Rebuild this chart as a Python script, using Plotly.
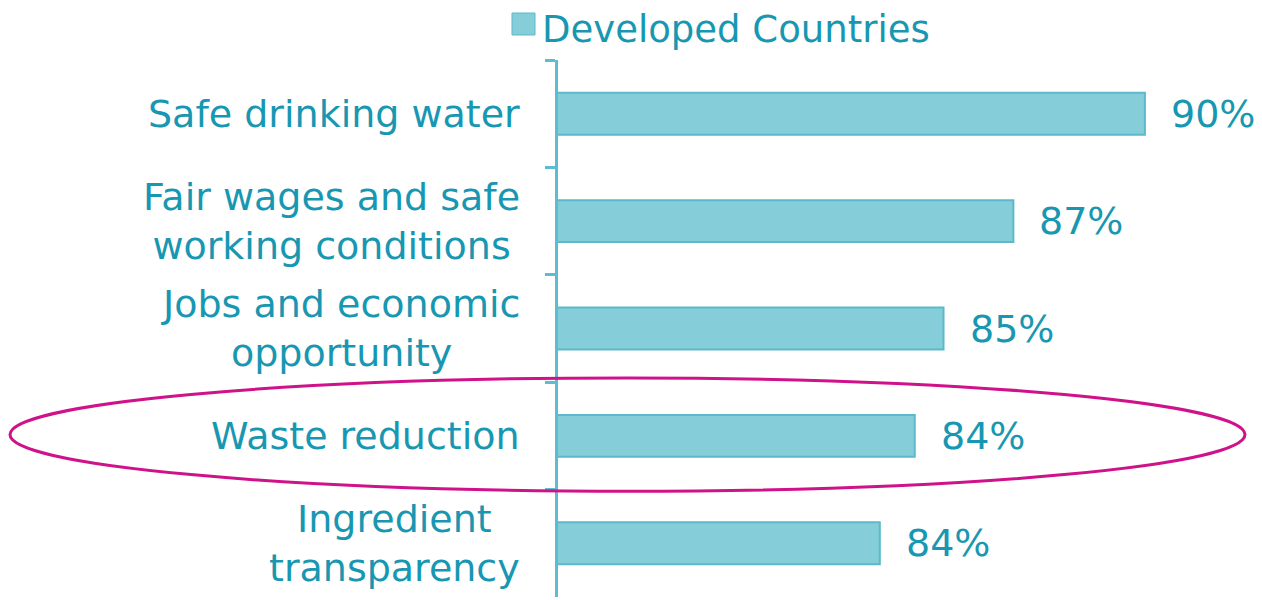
import plotly.graph_objects as go

# ---- data ----
categories = [
    "Safe drinking water",
    "Fair wages and safe<br>working conditions",
    "Jobs and economic<br>opportunity",
    "Waste reduction",
    "Ingredient<br>transparency",
]
values = [90.0, 86.8, 85.1, 84.4, 83.55]
series_name = "Developed Countries"
highlight = "Waste reduction"

# ---- style ----
TEXT = "#1797b1"
BAR = "#85cdd9"
BAR_EDGE = "#5cb9cc"
AXIS = "#5dbdd0"
RING = "#cf1289"
FONT = "DejaVu Sans"
FS = 38

PAD = 8  # default page body margin
W, H = 1262, 600
ML, MR, MT, MB = 550, 0, 52, 11
PW, PH = W - ML - MR, H - MT - MB
x0 = 75.72
x1 = x0 + PW / 41.1


def px_x(p):
    return (p - PAD - ML) / PW


def px_y(p):
    return (H - MB - (p - PAD)) / PH


fig = go.Figure()
fig.add_trace(go.Bar(
    y=categories, x=values, orientation="h", name=series_name,
    marker=dict(color=BAR, line=dict(color=BAR_EDGE, width=2)),
    width=0.39, showlegend=False, hoverinfo="x+y",
))

annotations = []
for c, v in zip(categories, values):
    annotations.append(dict(
        x=v, y=c, xref="x", yref="y", text=f"{int(v + 0.5)}%",
        xanchor="left", yanchor="middle", xshift=24, showarrow=False,
        font=dict(family=FONT, size=FS, color=TEXT),
    ))
    annotations.append(dict(
        x=0, y=c, xref="paper", yref="y", text=c,
        xanchor="right", yanchor="middle", xshift=-36, showarrow=False,
        align="center", font=dict(family=FONT, size=FS, color=TEXT),
    ))

# legend (manual, to match the large swatch)
annotations.append(dict(
    x=px_x(541), y=px_y(30), xref="paper", yref="paper", text=series_name,
    xanchor="left", yanchor="middle", showarrow=False, borderpad=0,
    font=dict(family=FONT, size=37, color=TEXT),
))

hi = categories.index(highlight)
shapes = [
    dict(type="rect", xref="paper", yref="paper",
         x0=px_x(512), x1=px_x(535), y0=px_y(35), y1=px_y(13),
         fillcolor=BAR, line=dict(color=BAR_EDGE, width=1)),
    dict(type="circle", xref="paper", yref="y", layer="above",
         x0=px_x(10), x1=px_x(1245), y0=hi - 0.54, y1=hi + 0.515,
         line=dict(color=RING, width=3), fillcolor="rgba(0,0,0,0)"),
]

fig.update_layout(
    width=W, height=H,
    margin=dict(l=ML, r=MR, t=MT, b=MB),
    paper_bgcolor="white", plot_bgcolor="white",
    annotations=annotations, shapes=shapes,
    font=dict(family=FONT, size=FS, color=TEXT),
    xaxis=dict(visible=False, range=[x0, x1], fixedrange=True),
    yaxis=dict(
        autorange="reversed", showticklabels=False, showgrid=False,
        showline=True, linecolor=AXIS, linewidth=3,
        ticks="outside", tickson="boundaries", ticklen=10, tickwidth=3,
        tickcolor=AXIS, zeroline=False, fixedrange=True,
    ),
)

fig.write_html("out.html")
